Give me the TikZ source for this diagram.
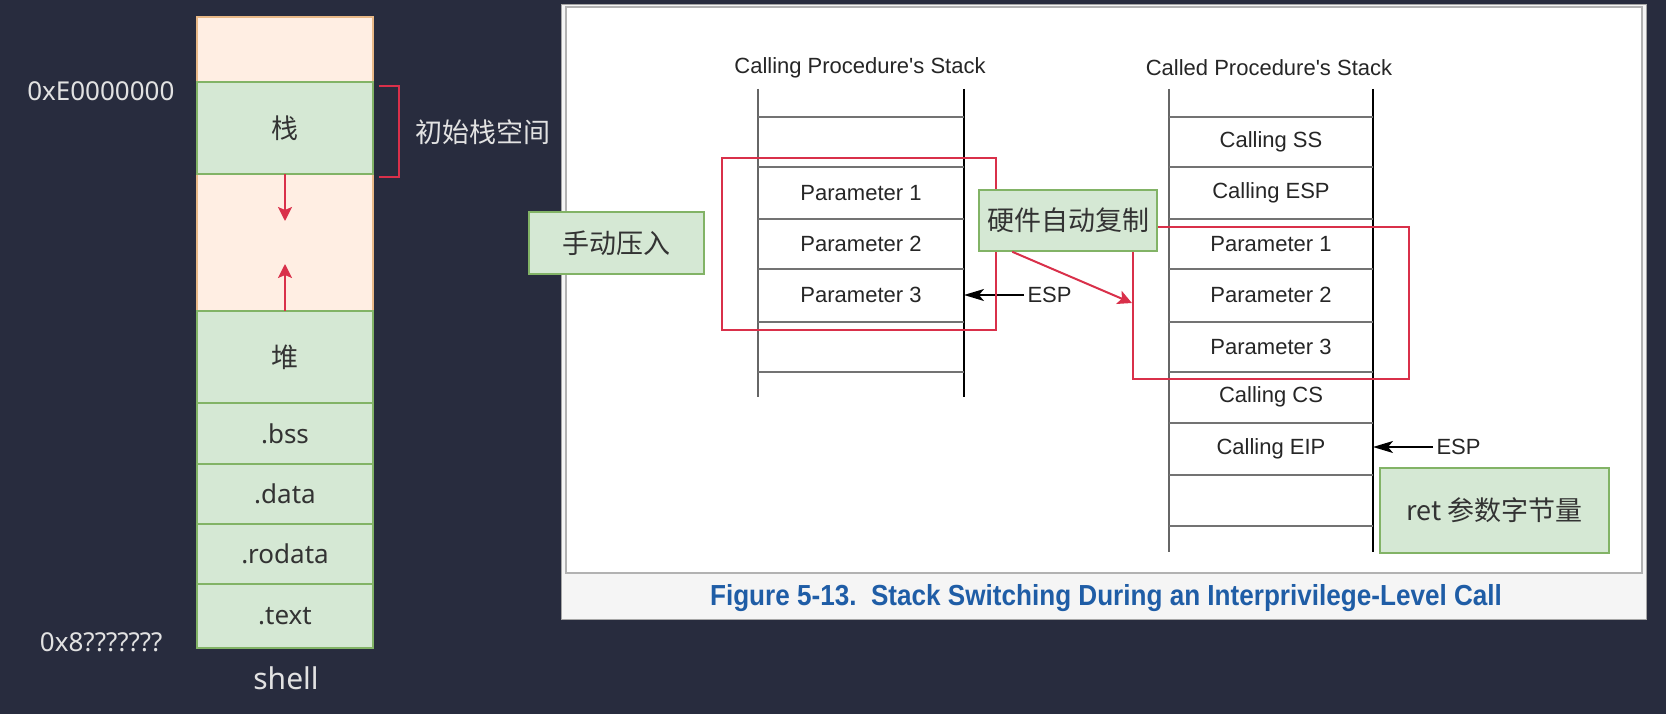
\documentclass[tikz,border=0pt]{standalone}
\usepackage{fontspec}
\setmainfont{Liberation Sans}
\newfontfamily\cjk{Noto Sans CJK SC}
\newfontfamily\notosans{Noto Sans}
\newfontfamily\capfont[FakeStretch=0.9]{Liberation Sans}
\usetikzlibrary{positioning, arrows.meta}

\definecolor{slidebg}{HTML}{282C3E}
\definecolor{peach}{HTML}{FFEEE3}
\definecolor{peachline}{HTML}{E9B987}
\definecolor{greenfill}{HTML}{D5E8D4}
\definecolor{greenline}{HTML}{82B366}
\definecolor{markred}{HTML}{D9304A}
\definecolor{capblue}{HTML}{1F5DA6}
\definecolor{lighttext}{HTML}{E2E2E2}

\tikzset{
  memseg/.style={draw=greenline, fill=greenfill, line width=1.2pt, minimum width=176pt,
    inner sep=0pt, outer sep=0pt, text=black!80, font=\notosans\fontsize{26}{30}\selectfont},
  greenbox/.style={draw=greenline, fill=greenfill, line width=1.5pt, inner sep=0pt,
    text=black!80, font=\cjk\fontsize{27}{32}\selectfont},
  redframe/.style={draw=markred, line width=2.2pt, inner sep=0pt},
  redarrow/.style={draw=markred, line width=2pt, -{Stealth[length=14pt, width=14pt, inset=3pt]}},
  esparrow/.style={line width=1.4pt, -{Stealth[length=20pt, width=12pt, inset=5pt]}},
  celltext/.style={font=\fontsize{22}{26}\selectfont, text=black!85},
  cellline/.style={draw=black!55, line width=2pt},
  addrtext/.style={text=lighttext, font=\notosans\fontsize{26}{30}\selectfont},
}

\begin{document}
\begin{tikzpicture}[x=1pt, y=-1pt]
\useasboundingbox[fill=slidebg] (0,0) rectangle (1666,714);

% memory layout of the process
\node[draw=peachline, fill=peach, line width=1.2pt, minimum width=176pt, minimum height=294pt,
  inner sep=0pt, outer sep=0pt, anchor=north west] (free) at (197,17) {};
\node[memseg, minimum height=92pt, anchor=north west, font=\cjk\fontsize{27}{32}\selectfont] (stk) at (197,82) {栈};
\node[memseg, minimum height=92pt, anchor=north west, font=\cjk\fontsize{27}{32}\selectfont] (heap) at (197,311) {堆};
\node[memseg, minimum height=61pt, below=0pt of heap] (bss) {.bss};
\node[memseg, minimum height=60pt, below=0pt of bss] (data) {.data};
\node[memseg, minimum height=60pt, below=0pt of data] (rodata) {.rodata};
\node[memseg, minimum height=64pt, below=0pt of rodata] (txt) {.text};

\coordinate (growdown) at (285,221);
\coordinate (growup) at (285,264);
\draw[redarrow] (stk.south) -- (growdown);
\draw[redarrow] (heap.north) -- (growup);

\draw[markred, line width=2pt] ([xshift=6pt, yshift=-4pt]stk.north east) -- ++(20,0)
  |- ([xshift=6pt, yshift=-3pt]stk.south east);
\node[anchor=west, text=lighttext, font=\cjk\fontsize{27}{32}\selectfont] (initstk) at (412,132) {初始栈空间};

\node[addrtext, anchor=east] (addrtop) at (178,91) {0xE0000000};
\node[addrtext, anchor=east] (addrbot) at (166,642) {0x8???????};
\node[text=lighttext, font=\notosans\fontsize{30}{34}\selectfont] (shellname) at (286,678) {shell};

% the manual's figure
\draw[draw=gray!70, fill=black!4, line width=1pt] (561,5) rectangle (1646,619);
\draw[draw=gray!60, fill=white, line width=1.5pt] (566,7) rectangle (1642,573);
\node[text=capblue, font=\capfont\bfseries\fontsize{29}{34}\selectfont] (caption) at (1106,598)
  {Figure 5-13.\ \ Stack Switching During an Interprivilege-Level Call};

% calling procedure's stack
\node[celltext] (titleA) at (860,68) {Calling Procedure\textquotesingle s Stack};
\draw[draw=black!60, line width=1.5pt] (758,89) -- (758,397);
\draw[black, line width=2pt] (964,89) -- (964,397);
\foreach \y in {117,167,219,269,322,372}
  \draw[cellline] (758,\y) -- (964,\y);
\node[celltext] (prmA1) at (861,193) {Parameter 1};
\node[celltext] (prmA2) at (861,244) {Parameter 2};
\node[celltext] (prmA3) at (861,295) {Parameter 3};
\node[celltext, anchor=west] (espA) at (1024,295) {ESP};
\coordinate (topA) at (964,295);
\draw[esparrow] (espA.west) -- (topA);

% called procedure's stack
\node[celltext] (titleB) at (1269,68) {Called Procedure\textquotesingle s Stack};
\draw[draw=black!60, line width=1.5pt] (1169,89) -- (1169,552);
\draw[black, line width=2pt] (1373,89) -- (1373,552);
\foreach \y in {117,167,219,269,322,372,423,475,526}
  \draw[cellline] (1169,\y) -- (1373,\y);
\foreach \lbl/\y/\nm in {Calling SS/142/css, Calling ESP/193/cesp, Parameter 1/244/prmB1,
    Parameter 2/295/prmB2, Parameter 3/347/prmB3, Calling CS/397/ccs, Calling EIP/449/ceip}
  \node[celltext] (\nm) at (1271,\y) {\lbl};
\node[celltext, anchor=west] (espB) at (1433,447) {ESP};
\coordinate (topB) at (1373,447);
\draw[esparrow] (espB.west) -- (topB);

% marks
\node[redframe, minimum width=274pt, minimum height=172pt] (cpyA) at (859,244) {};
\node[redframe, minimum width=276pt, minimum height=152pt] (cpyB) at (1271,303) {};

\node[greenbox, minimum width=175pt, minimum height=62pt] (manual) at (616.5,243) {手动压入};
\node[greenbox, minimum width=178pt, minimum height=61pt] (hwcopy) at (1068,220.5) {硬件自动复制};
\node[greenbox, minimum width=229pt, minimum height=85pt] (retbox) at (1494.5,510.5) {ret 参数字节量};

\draw[redarrow] ([xshift=34pt]hwcopy.south west) -- (cpyB.west);
\end{tikzpicture}
\end{document}
